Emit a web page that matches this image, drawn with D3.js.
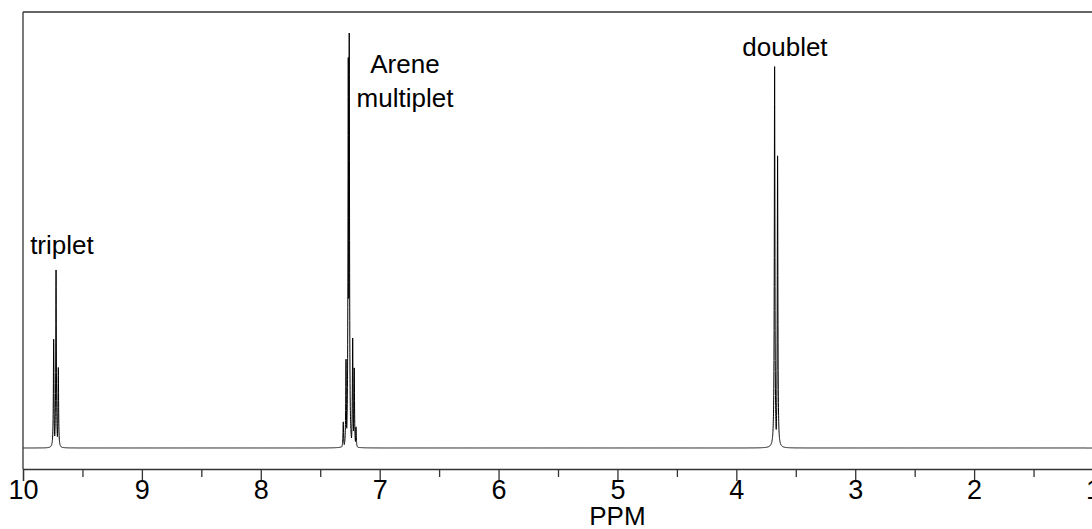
<!DOCTYPE html>
<html><head><meta charset="utf-8">
<script src="https://cdn.jsdelivr.net/npm/d3@7"></script>
<style>
body{margin:0;background:#fff}
svg{display:block}
text{font-family:"Liberation Sans",Arial,sans-serif;fill:#000}
</style>
</head><body>
<svg id="chart" width="1092" height="529"></svg>
<script>
// ---- data ----
const peakPPM    = [9.742, 9.722, 9.703, 7.306, 7.283, 7.264, 7.256, 7.227, 7.214, 7.199, 3.678, 3.653];
const peakHeight = [26.2, 42.9, 19.4, 6.3, 21.4, 94.1, 100, 26.5, 19.3, 5.1, 91.9, 70.4];
const majorTicks = [10, 9, 8, 7, 6, 5, 4, 3, 2, 1];
const majorTickLabels = ["10", "9", "8", "7", "6", "5", "4", "3", "2", "1"];
const minorTicks = [9.5, 8.5, 7.5, 6.5, 5.5, 4.5, 3.5, 2.5, 1.5];
const annotationText = [["triplet"], ["Arene", "multiplet"], ["doublet"]];
const annotationPPM = [9.94, 6.787, 3.591];
const annotationLevel = [46.7, 90.4, 94.5];
const annotationAnchor = ["start", "middle", "middle"];
const xAxisTitle = "PPM";
const lineWidthPPM = 0.003; // Lorentzian half width of each line

// ---- layout ----
const svg = d3.select("#chart");
const plotLeft = 23, plotRight = 1093, plotTop = 12, axisY = 469;
const x = d3.scaleLinear().domain([10, 1]).range([plotLeft, plotRight]);
const y = d3.scaleLinear().domain([0, 100]).range([448, 33]);

svg.append("rect").attr("width", 1092).attr("height", 529).attr("fill", "#fff");

// spectrum: each line drawn as a Lorentzian around its read position
const pts = [];
const step = 0.0005;
const grid = d3.range(1, 10 + step / 2, step).concat(peakPPM);
grid.sort((a, b) => b - a);
for (const p of grid) {
  let v = 0;
  for (let i = 0; i < peakPPM.length; i++) {
    const d = p - peakPPM[i];
    const l = peakHeight[i] * lineWidthPPM * lineWidthPPM / (d * d + lineWidthPPM * lineWidthPPM);
    if (l > v) v = l;
  }
  pts.push([p, v]);
}
const line = d3.line().x(d => x(d[0])).y(d => y(d[1]));
svg.append("path").datum(pts)
  .attr("d", line)
  .attr("fill", "none")
  .attr("stroke", "#000")
  .attr("stroke-width", 1);

// frame
const frame = svg.append("g").attr("stroke", "#333").attr("stroke-width", 1.3).attr("fill", "none");
frame.append("line").attr("x1", plotLeft).attr("x2", plotLeft).attr("y1", plotTop).attr("y2", axisY);
frame.append("line").attr("x1", plotLeft).attr("x2", plotRight).attr("y1", plotTop).attr("y2", plotTop);
frame.append("line").attr("x1", plotRight).attr("x2", plotRight).attr("y1", plotTop).attr("y2", axisY);

// axis
const gAxis = svg.append("g").attr("transform", `translate(0,${axisY})`);
gAxis.call(d3.axisBottom(x).tickValues(majorTicks).tickSize(12).tickPadding(-1)
  .tickFormat((d, i) => majorTickLabels[i]));
gAxis.select(".domain").attr("stroke", "#333").attr("stroke-width", 1.3);
gAxis.selectAll(".tick line").attr("stroke", "#333").attr("stroke-width", 1.3);
gAxis.selectAll(".tick text").attr("font-size", 27).attr("font-family", "Liberation Sans, Arial, sans-serif").attr("fill", "#000");

const gMinor = svg.append("g").attr("transform", `translate(0,${axisY})`);
gMinor.call(d3.axisBottom(x).tickValues(minorTicks).tickSize(8).tickFormat(""));
gMinor.select(".domain").remove();
gMinor.selectAll(".tick line").attr("stroke", "#333").attr("stroke-width", 1.3);

svg.append("text").attr("x", x(5)).attr("y", 525).attr("text-anchor", "middle")
  .attr("font-size", 26).text(xAxisTitle);

// annotations
annotationText.forEach((lines, i) => {
  const t = svg.append("text")
    .attr("x", x(annotationPPM[i]))
    .attr("y", y(annotationLevel[i]))
    .attr("text-anchor", annotationAnchor[i])
    .attr("font-size", 26);
  lines.forEach((s, j) => {
    t.append("tspan").attr("x", x(annotationPPM[i])).attr("dy", j === 0 ? 0 : 34).text(s);
  });
});
</script>
</body></html>
